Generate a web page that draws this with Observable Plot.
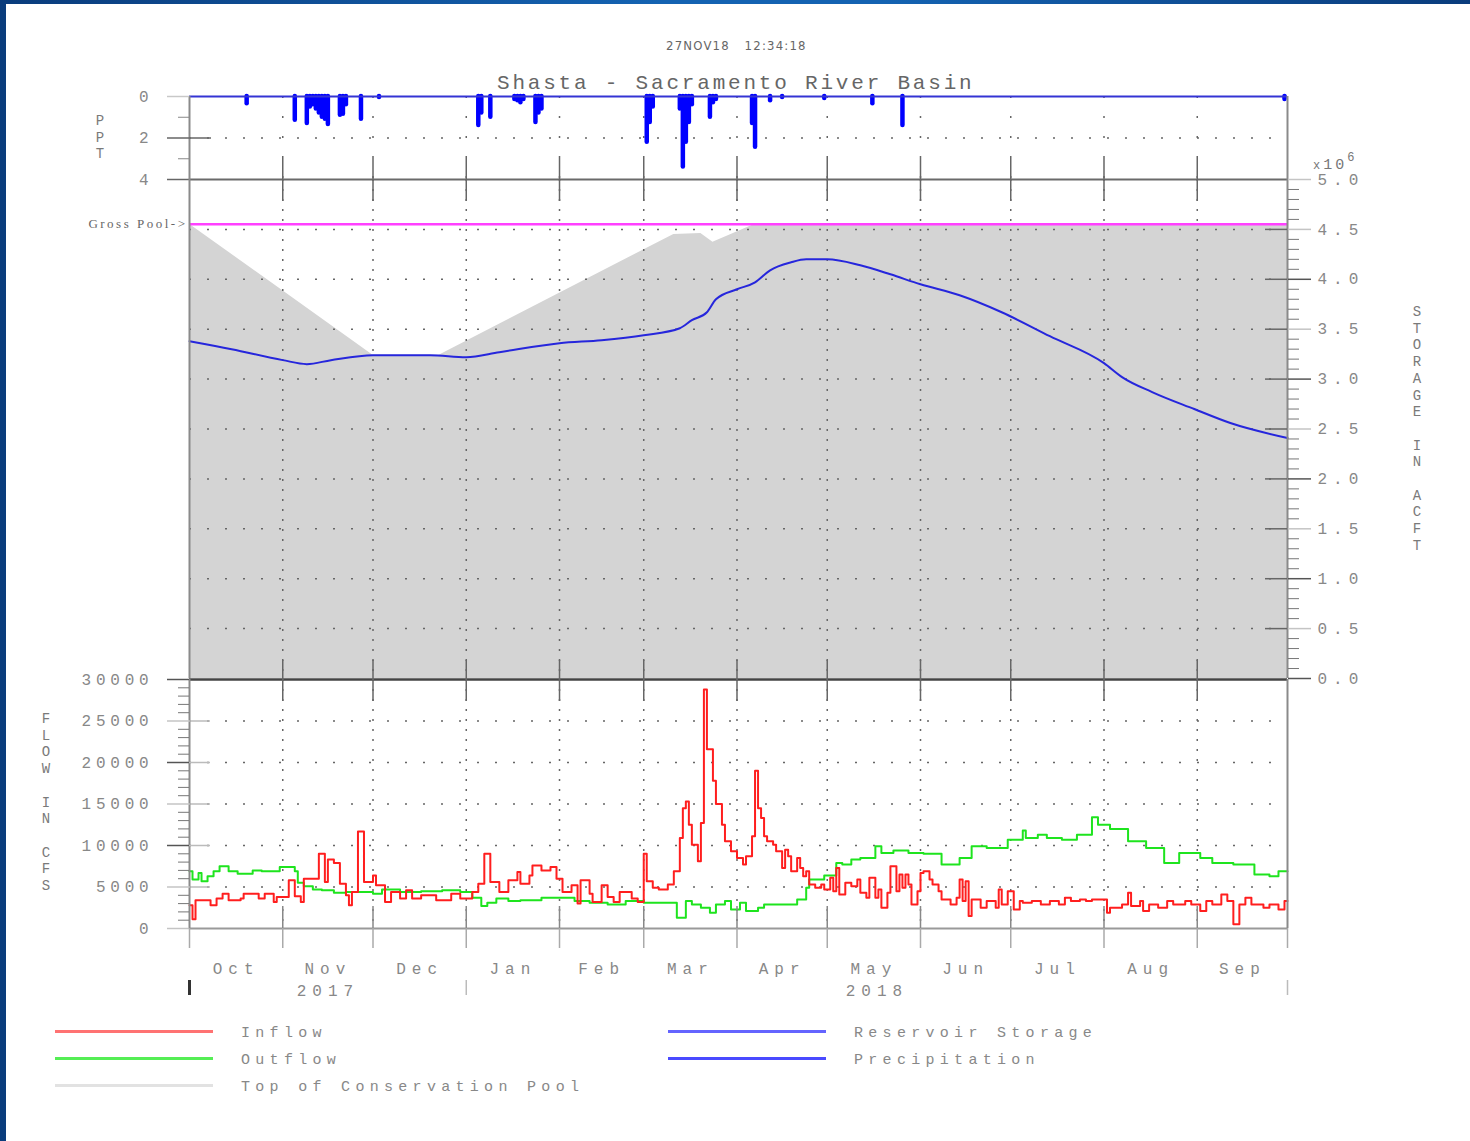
<!DOCTYPE html>
<html>
<head>
<meta charset="utf-8">
<script src="https://cdn.jsdelivr.net/npm/d3@7"></script>
<script src="https://cdn.jsdelivr.net/npm/@observablehq/plot@0.6"></script>
<style>
  html, body { margin:0; padding:0; }
  body { position:relative; width:1470px; height:1141px; overflow:hidden;
         background: linear-gradient(90deg, #0a3c7c 0%, #1463b2 45%, #1463b2 60%, #0a3c7c 100%); }
  #sheet { position:absolute; left:6px; top:4px; right:0; bottom:0; background:#fff; }
  .layer { position:absolute; left:0; top:0; pointer-events:none; }
  .mono { font-family:"Liberation Mono","DejaVu Sans Mono",monospace; color:#7a7a7a; }
  .abs { position:absolute; white-space:pre; }
  .vlabel { position:absolute; width:20px; text-align:center; white-space:pre; font-size:14px; line-height:16.7px; }
  #stamp { font-family:"Liberation Sans Narrow","DejaVu Sans Condensed",sans-serif; font-size:13px; letter-spacing:1.2px; color:#666; }
  #title { font-size:21px; letter-spacing:2.8px; color:#666; line-height:21px; }
  .legline { position:absolute; height:3px; }
  .legtext { position:absolute; font-size:15px; letter-spacing:5.3px; line-height:18px; color:#888; }
</style>
</head>
<body>
<div id="sheet"></div>
<script>
// ---------------- DATA ----------------
// day index counted from 1 Oct 2017 (water year 2018)
const startDate = Date.UTC(2017, 9, 1);
const monthLabels = ["Oct","Nov","Dec","Jan","Feb","Mar","Apr","May","Jun","Jul","Aug","Sep"];
const yearLabels = ["2017","2018"];
const titleText = "Shasta - Sacramento River Basin";
const stampText = "27NOV18   12:34:18";
const legendLabels = ["Inflow","Outflow","Top of Conservation Pool","Reservoir Storage","Precipitation"];
const legendColors = ["#ff7272","#55ee55","#e2e2e2","#6464ff","#4a4aff"];

// precipitation, inches/day  [day, in]
const precipitation = [[19,0.35],[35,1.15],[39,1.3],[40,0.5],[41,0.4],[42,0.6],[43,0.8],[44,1.0],[45,1.1],[46,1.35],
  [50,0.9],[51,0.85],[52,0.4],[57,1.1],[63,0.05],[96,1.4],[97,0.8],[100,1.0],[108,0.15],[109,0.2],[110,0.3],[111,0.15],
  [115,1.25],[116,0.8],[117,0.6],[152,2.2],[153,1.25],[154,0.5],[163,0.6],[164,3.4],[165,2.2],[166,1.25],[167,0.4],
  [173,1.0],[174,0.3],[175,0.15],[187,1.3],[188,2.45],[193,0.2],[197,0.05],[211,0.1],[227,0.35],[237,1.4],[364,0.15]];

// reservoir storage, million acre-feet [day, MAF]
const storage = [[0,3.38],[14,3.30],[31,3.19],[39,3.15],[47,3.19],[61,3.24],[70,3.24],[80,3.24],[92,3.22],[103,3.27],
  [123,3.36],[137,3.39],[151,3.44],[163,3.51],[167,3.59],[172,3.67],[175,3.80],[182,3.90],[188,3.97],[193,4.09],
  [200,4.17],[205,4.20],[212,4.20],[223,4.14],[233,4.05],[243,3.95],[256,3.84],[270,3.67],[286,3.43],[304,3.16],
  [310,3.02],[320,2.87],[334,2.70],[346,2.56],[365,2.41]];

// top of conservation pool, million acre-feet [day, MAF]
const conservationPool = [[0,4.552],[61,3.24],[83,3.24],[161,4.45],[170,4.46],[174,4.37],[188,4.552],[365,4.552]];
const grossPool = 4.552;

// inflow, cfs [day, cfs]
const inflow = [[0,2800],[1,1100],[2,3400],[7,2800],[9,3600],[11,4200],[13,3400],[17,3600],[18,4200],[23,3600],
  [25,4200],[28,3200],[29,3800],[33,5800],[35,3900],[37,3200],[38,6000],[43,9000],[45,5600],[46,8300],[48,7900],
  [50,5400],[52,4000],[53,2800],[54,4400],[56,11700],[58,5600],[61,6400],[62,5200],[65,3200],[67,4400],[70,3600],
  [72,4600],[74,3600],[77,4000],[82,3400],[87,4200],[90,3600],[94,4400],[96,5400],[98,9000],[100,5600],[103,4400],
  [106,5800],[109,6800],[110,5400],[113,6400],[114,7600],[117,7000],[120,7400],[122,6000],[124,4400],[127,5200],
  [129,3000],[130,5800],[133,4200],[134,3200],[137,5200],[139,3800],[141,3200],[143,4400],[147,3600],[149,3200],
  [151,9000],[152,5700],[154,4900],[156,4700],[159,5300],[161,6900],[163,10900],[164,14500],[165,15300],[166,12500],
  [167,10100],[169,8100],[170,12700],[171,28800],[172,21600],[174,17800],[175,15000],[177,12500],[178,10500],
  [180,9300],[182,8500],[184,7700],[185,8700],[187,11100],[188,19000],[189,14500],[190,13300],[191,11100],
  [192,10500],[194,10100],[195,9300],[197,7300],[198,9500],[199,8700],[200,6900],[202,8500],[203,7300],[204,6300],
  [205,6900],[206,5300],[208,4900],[210,5300],[211,4700],[213,6100],[214,4500],[215,7300],[216,4100],[218,5500],
  [220,5100],[222,5900],[223,4300],[225,3700],[226,6100],[228,3700],[229,4700],[230,2500],[232,4300],[233,7500],
  [235,4500],[236,6500],[237,4900],[238,6500],[239,5300],[240,2900],[242,4500],[243,6700],[244,6900],[246,5900],
  [247,5300],[249,4500],[250,3500],[253,2900],[255,3700],[256,5900],[257,3300],[258,5700],[259,1500],[260,3500],
  [263,2500],[265,3300],[268,2500],[269,4700],[270,2900],[272,4500],[274,2300],[276,3300],[277,3100],[280,3300],
  [283,2900],[286,3300],[289,2900],[291,3700],[293,3300],[296,3500],[298,3300],[300,3500],[305,1900],[306,2500],
  [310,2900],[312,4300],[313,2700],[316,3300],[317,2100],[319,2900],[322,2500],[325,3300],[327,2900],[331,3300],
  [333,2900],[336,2100],[338,3300],[340,2900],[343,4100],[345,3300],[347,500],[349,2900],[351,3700],[353,2900],
  [357,2500],[359,2900],[362,2300],[364,3300],[365,3300]];

// outflow, cfs [day, cfs]
const outflow = [[0,6900],[1,5900],[3,6700],[4,5700],[6,6300],[8,6900],[10,7500],[13,6900],[16,6600],[21,7000],
  [24,6900],[30,7400],[35,6900],[36,5500],[38,5100],[41,4700],[44,4600],[48,4300],[52,4400],[61,4200],[64,4700],
  [70,4400],[77,4500],[84,4600],[90,4400],[94,3700],[97,2700],[99,3100],[102,3600],[106,3300],[110,3400],[117,3700],
  [128,3300],[133,3100],[139,2900],[145,3300],[151,3100],[162,1300],[165,3300],[167,2900],[170,2500],[173,1900],
  [175,2900],[178,3300],[180,2300],[183,3100],[185,2100],[189,2500],[191,2900],[202,3500],[205,4900],[206,5900],
  [211,6400],[215,7900],[217,7700],[220,8300],[223,8500],[228,9900],[230,9100],[234,9400],[239,9100],[244,9000],
  [250,7700],[256,8500],[260,9900],[265,9700],[272,10700],[277,11800],[278,10900],[282,11300],[285,10900],
  [290,10700],[295,11300],[300,13400],[302,12500],[306,12000],[312,10500],[318,9700],[324,7900],[329,9100],
  [336,8500],[340,7900],[347,7700],[354,6500],[359,6300],[362,6900],[365,6900]];

// ---------------- HELPERS ----------------
const dt = d => new Date(startDate + d * 864e5);
const toRows = arr => arr.map(([d, v]) => ({date: dt(d), value: v}));
const W = 1470, H = 1141, FL = 189, FR = 1287, PW = FR - FL;
const frame = (top, bottom) => ({width: W, height: H, marginLeft: FL, marginRight: W - FR, marginTop: top, marginBottom: H - bottom});
const xScale = {type: "utc", domain: [dt(0), dt(365)], axis: null};
const monthStarts = d3.utcMonth.range(dt(0), dt(366));
const innerMonths = monthStarts.slice(1, -1);
const monthMids = monthStarts.slice(0, -1).map((m, i) => new Date((+m + +monthStarts[i + 1]) / 2));
const yearBounds = [dt(0), ...d3.utcYear.range(dt(1), dt(365)), dt(365)];
const yearMids = yearBounds.slice(0, -1).map((b, i) => new Date((+b + +yearBounds[i + 1]) / 2));
const svgStyle = "background:transparent;overflow:visible;font-family:'Liberation Mono','DejaVu Sans Mono',monospace;font-size:16px;letter-spacing:4.8px;color:#888;";
const dotH = {stroke: "#666", strokeOpacity: 1, strokeWidth: 1.5, strokeDasharray: "2,16"};
const dotV = {stroke: "#666", strokeOpacity: 1, strokeWidth: 1.5, strokeDasharray: "2,8"};
const frameLine = {stroke: "#8a8a8a", strokeWidth: 2};
const blank = () => "";
const intFmt = d3.format("d");
function mount(svg) {
  const d = document.createElement("div");
  d.className = "layer";
  d.appendChild(svg);
  document.body.appendChild(d);
  return svg;
}

// ---------------- PRECIPITATION PANEL ----------------
mount(Plot.plot({
  ...frame(96, 179),
  style: svgStyle,
  x: xScale,
  y: {domain: [0, 4], reverse: true, axis: null},
  marks: [
    Plot.gridY([2], dotH),
    Plot.gridX(innerMonths, {...dotV, strokeDasharray: "2,18"}),
    Plot.ruleX(toRows(precipitation), {x: "date", y1: 0, y2: "value", stroke: "#0000ff", strokeWidth: 4.5, strokeLinecap: "round"}),
    Plot.ruleY([0], {stroke: "#3434d4", strokeWidth: 2}),
    Plot.ruleY([4], {stroke: "#6a6a6a", strokeWidth: 2}),
    Plot.ruleX([dt(0), dt(365)], frameLine),
    Plot.axisY([0], {tickSize: 22, tickPadding: 14, stroke: "#c8c8c8", strokeWidth: 1.5, tickFormat: intFmt, label: null}),
    Plot.axisY([2, 4], {tickSize: 22, tickPadding: 14, stroke: "#666", strokeWidth: 1.5, tickFormat: intFmt, label: null}),
    Plot.tickY([2], {y: d => d, insetRight: PW - 22, stroke: "#666", strokeWidth: 1.5}),
    Plot.axisY([1, 3], {tickSize: 11, stroke: "#888", tickFormat: blank, label: null})
  ]
}));

// ---------------- STORAGE PANEL ----------------
const sInts = d3.range(0, 5);
const sHalves = d3.range(0.5, 5.01, 1).concat([5]);
const sTenths = d3.range(1, 50).filter(i => i % 5 !== 0).map(i => i / 10);
const storageSvg = mount(Plot.plot({
  ...frame(179, 678),
  style: svgStyle,
  x: xScale,
  y: {domain: [0, 5], axis: null},
  marks: [
    Plot.areaY(toRows(conservationPool), {x: "date", y: "value", fill: "#d4d4d4"}),
    Plot.gridY(d3.range(0.5, 4.6, 0.5), dotH),
    Plot.gridX(innerMonths, dotV),
    Plot.ruleY([grossPool], {stroke: "#ff40ff", strokeWidth: 2.5}),
    Plot.line(toRows(storage), {x: "date", y: "value", stroke: "#2626dc", strokeWidth: 2, curve: "monotone-x"}),
    Plot.ruleX([dt(0), dt(365)], frameLine),
    Plot.axisY(sInts, {anchor: "right", tickSize: 23, tickPadding: 7, stroke: "#555", strokeWidth: 1.5, tickFormat: d3.format(".1f"), label: null}),
    Plot.axisY(sHalves, {anchor: "right", tickSize: 23, tickPadding: 7, stroke: "#c4c4c4", strokeWidth: 1.5, tickFormat: d3.format(".1f"), label: null}),
    Plot.axisY(sTenths, {anchor: "right", tickSize: 11, stroke: "#777", tickFormat: blank, label: null}),
    Plot.tickY(d3.range(0.5, 4.6, 0.5), {y: d => d, insetLeft: PW - 22, stroke: "#666", strokeWidth: 1.5}),
    Plot.axisX(innerMonths, {anchor: "top", tickSize: 22, stroke: "#666", strokeWidth: 1.5, tickFormat: blank, label: null}),
    Plot.tickX(innerMonths, {x: d => d, insetBottom: 499 - 22, stroke: "#666", strokeWidth: 1.5}),
    Plot.text([grossPool], {x: () => dt(0), y: d => d, text: () => "Gross Pool->", textAnchor: "end", dx: -2, fontSize: 13, fontFamily: "Liberation Serif, serif", fill: "#666"})
  ]
}));
d3.select(storageSvg).selectAll('g[aria-label="text"] text').style("letter-spacing", "2.5px");
d3.select(storageSvg).selectAll('g[aria-label="y-axis tick label"] text').style("letter-spacing", "6px");

// ---------------- FLOW PANEL ----------------
const flowSvg = mount(Plot.plot({
  ...frame(679, 928),
  style: svgStyle,
  x: xScale,
  y: {domain: [0, 30000], axis: null},
  marks: [
    Plot.gridY(d3.range(5000, 25001, 5000), dotH),
    Plot.gridX(innerMonths, dotV),
    Plot.line(toRows(outflow), {x: "date", y: "value", stroke: "#1ee41e", strokeWidth: 2, curve: "step-after"}),
    Plot.line(toRows(inflow), {x: "date", y: "value", stroke: "#ff1e1e", strokeWidth: 2, curve: "step-after"}),
    Plot.ruleY([30000], {stroke: "#444", strokeWidth: 2.5}),
    Plot.ruleY([0], {stroke: "#999", strokeWidth: 2}),
    Plot.ruleX([dt(0), dt(365)], frameLine),
    Plot.axisY([10000, 20000, 30000], {tickSize: 22, tickPadding: 14, stroke: "#555", strokeWidth: 1.5, tickFormat: intFmt, label: null}),
    Plot.axisY([0, 5000, 15000, 25000], {tickSize: 22, tickPadding: 14, stroke: "#c4c4c4", strokeWidth: 1.5, tickFormat: intFmt, label: null}),
    Plot.axisY(d3.range(1000, 30000, 1000).filter(v => v % 5000 !== 0), {tickSize: 11, stroke: "#777", tickFormat: blank, label: null}),
    Plot.tickY(d3.range(5000, 25001, 5000), {y: d => d, insetRight: PW - 21, stroke: "#bbb", strokeWidth: 1.5}),
    Plot.axisX(innerMonths, {anchor: "top", tickSize: 20, stroke: "#666", strokeWidth: 1.5, tickFormat: blank, label: null}),
    Plot.tickX(innerMonths, {x: d => d, insetBottom: 249 - 22, stroke: "#666", strokeWidth: 1.5}),
    Plot.tickX(innerMonths, {x: d => d, insetTop: 249 - 22, stroke: "#888", strokeWidth: 1.5}),
    Plot.axisX(monthStarts, {anchor: "bottom", tickSize: 20, stroke: "#aaa", strokeWidth: 1.5, tickFormat: blank, label: null}),
    Plot.axisX(monthMids, {anchor: "bottom", tickSize: 0, tickPadding: 34,
      tickFormat: d => monthLabels[monthMids.findIndex(m => +m === +d)], label: null}),
    Plot.text(yearLabels, {x: (d, i) => yearMids[i], text: d => d, frameAnchor: "bottom", lineAnchor: "top", dy: 56, fontSize: 16, fill: "#888"}),
    Plot.axisX([yearBounds[0]], {anchor: "bottom", tickSize: 15, dy: 52, stroke: "#333", strokeWidth: 3, tickFormat: blank, label: null}),
    Plot.axisX(yearBounds.slice(1), {anchor: "bottom", tickSize: 15, dy: 52, stroke: "#bbb", strokeWidth: 1.5, tickFormat: blank, label: null})
  ]
}));
d3.select(flowSvg).selectAll('g[aria-label="x-axis tick label"] text, g[aria-label="text"] text').style("letter-spacing", "6px");

// ---------------- TEXT: title, stamp, axis names, legend ----------------
function addDiv(cls, text, css) {
  const d = document.createElement("div");
  d.className = cls;
  d.textContent = text;
  Object.assign(d.style, css);
  document.body.appendChild(d);
  return d;
}
addDiv("abs", stampText, {left: "666px", top: "38px"}).id = "stamp";
addDiv("abs mono", titleText, {left: "497px", top: "73px"}).id = "title";
const vertical = s => s.split("").join("\n");
addDiv("vlabel mono", vertical("PPT"), {left: "90px", top: "113px"});
addDiv("vlabel mono", vertical("FLOW IN CFS"), {left: "36px", top: "711px"});
addDiv("vlabel mono", vertical("STORAGE IN ACFT"), {left: "1407px", top: "304px"});
const mult = addDiv("abs mono", "", {left: "1313px", top: "153px", fontSize: "15px", letterSpacing: "3px", color: "#777"});
mult.innerHTML = '<span style="font-size:12px">x</span>10<sup style="font-size:12px;position:relative;top:-2px">6</sup>';

const legendPos = [[55, 241, 1031], [55, 241, 1058], [55, 241, 1085], [668, 854, 1031], [668, 854, 1058]];
legendLabels.forEach((lab, i) => {
  const [lx, tx, y] = legendPos[i];
  addDiv("legline", "", {left: lx + "px", top: (y - 1) + "px", width: "158px", background: legendColors[i]});
  addDiv("legtext mono abs", lab, {left: tx + "px", top: (y - 6) + "px"});
});
</script>
</body>
</html>
